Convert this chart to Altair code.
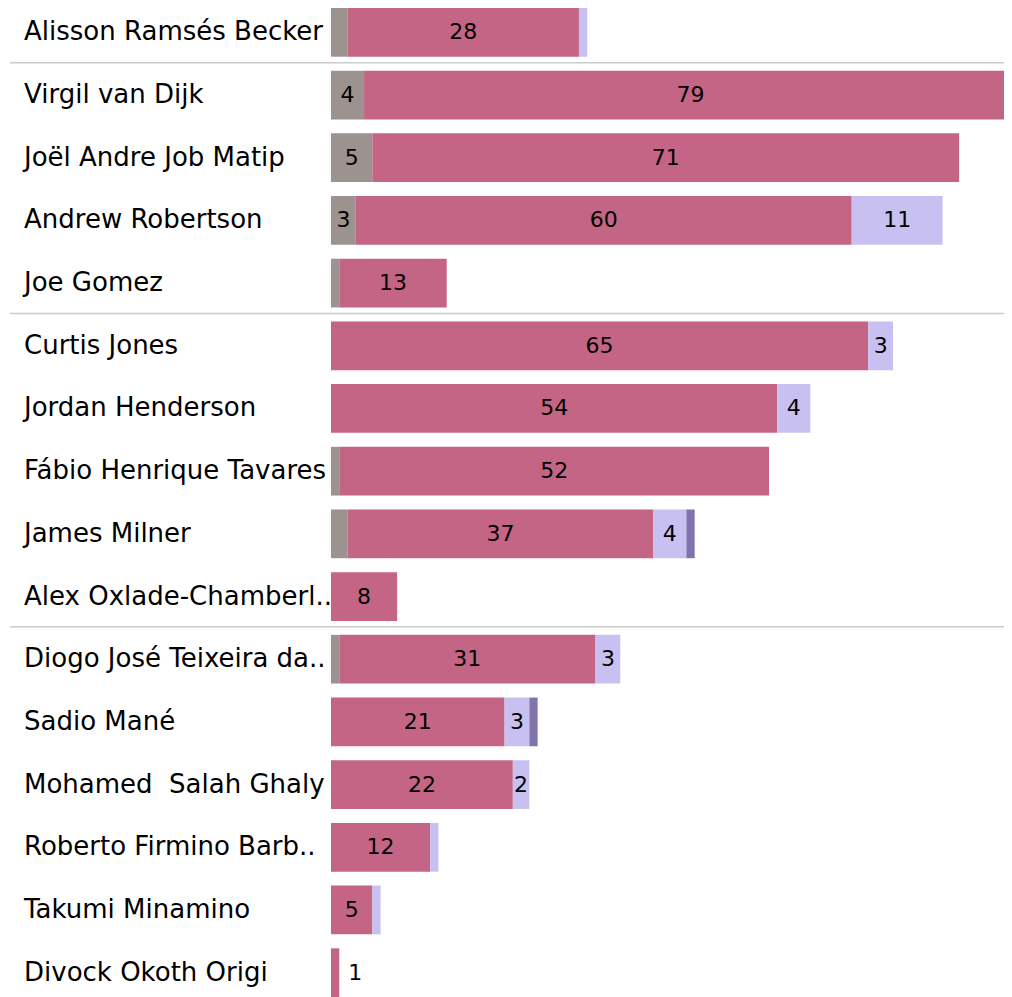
import altair as alt
import pandas as pd

players = [
    "Alisson Ramsés Becker", "Virgil van Dijk", "Joël Andre Job Matip",
    "Andrew Robertson", "Joe Gomez", "Curtis Jones", "Jordan Henderson",
    "Fábio Henrique Tavares", "James Milner", "Alex Oxlade-Chamberlain",
    "Diogo José Teixeira da Silva", "Sadio Mané", "Mohamed\u00a0 Salah Ghaly",
    "Roberto Firmino Barbosa de Oliveira", "Takumi Minamino", "Divock Okoth Origi",
]
positions = ["GK", "DEF", "DEF", "DEF", "DEF", "MID", "MID", "MID", "MID", "MID",
             "FWD", "FWD", "FWD", "FWD", "FWD", "FWD"]
# label width class: 1 = slightly tighter truncation
tight = [0, 0, 0, 0, 0, 0, 0, 0, 0, 0, 0, 0, 0, 1, 0, 0]

grey = [2, 4, 5, 3, 1, 0, 0, 1, 2, 0, 1, 0, 0, 0, 0, 0]
pink = [28, 79, 71, 60, 13, 65, 54, 52, 37, 8, 31, 21, 22, 12, 5, 1]
lav = [1, 0, 0, 11, 0, 3, 4, 0, 4, 0, 3, 3, 2, 1, 1, 0]
dark = [0, 0, 0, 0, 0, 0, 0, 0, 1, 0, 0, 1, 0, 0, 0, 0]

series_names = ["grey", "pink", "lav", "dark"]
series_values = [grey, pink, lav, dark]
series_colors = ["#9c928f", "#c46585", "#c8c0f0", "#8074ab"]

unlabelled = [("Alisson Ramsés Becker", "grey"), ("James Milner", "grey")]

rows = []
for i, p in enumerate(players):
    for k, (s, vals) in enumerate(zip(series_names, series_values)):
        v = vals[i]
        if v > 0:
            inside = 1 if (v >= 2 and (p, s) not in unlabelled) else 0
            outside = 1 if (s == "pink" and v < 2) else 0
            rows.append(dict(player=p, series=s, order=k, value=v,
                             inside=inside, outside=outside))
df = pd.DataFrame(rows)

first_flags = [1 if i == 0 or positions[i] != positions[i - 1] else 0
               for i in range(len(players))]
names_df = pd.DataFrame({"player": players, "position": positions,
                         "first": first_flags, "tight": tight})

W = 686
H = 1003
FONT = "DejaVu Sans"

yscale = alt.Scale(paddingInner=0.223, paddingOuter=0.1115)
Y = alt.Y("player:N", sort=players, axis=None, scale=yscale)

base = (
    alt.Chart(df)
    .transform_stack(stack="value", groupby=["player"], as_=["x0", "x1"],
                     sort=[alt.SortField("order", order="ascending")])
    .transform_calculate(mid="(datum.x0 + datum.x1) / 2")
)
xscale = alt.Scale(domain=[0, 83], nice=False, zero=True)

bars = base.mark_bar(cornerRadius=0).encode(
    x=alt.X("x0:Q", scale=xscale, axis=None),
    x2="x1:Q",
    y=Y,
    color=alt.Color("series:N", scale=alt.Scale(domain=series_names, range=series_colors), legend=None),
)

inside_text = base.transform_filter("datum.inside == 1").mark_text(
    font=FONT, fontSize=22, color="black", align="center", baseline="middle"
).encode(
    x=alt.X("mid:Q", scale=xscale, axis=None),
    y=Y,
    text=alt.Text("value:Q"),
)

outside_text = base.transform_filter("datum.outside == 1").mark_text(
    font=FONT, fontSize=22, color="black", align="left", baseline="middle", dx=9
).encode(
    x=alt.X("x1:Q", scale=xscale, axis=None),
    y=Y,
    text=alt.Text("value:Q"),
)

names = alt.Chart(names_df).transform_filter("datum.tight == 0").mark_text(
    font=FONT, fontSize=26, color="black", align="left", baseline="middle",
    limit=308.5, ellipsis=".."
).encode(
    x=alt.value(-307),
    y=Y,
    text="player:N",
)

names_tight = alt.Chart(names_df).transform_filter("datum.tight == 1").mark_text(
    font=FONT, fontSize=26, color="black", align="left", baseline="middle",
    limit=304, ellipsis=".."
).encode(
    x=alt.value(-307),
    y=Y,
    text="player:N",
)

rules = alt.Chart(names_df).transform_filter("datum.first == 1").mark_rule(
    color="#cccccc", strokeWidth=1.5, yOffset=-8
).encode(
    x=alt.value(-321),
    x2=alt.value(W + 20),
    y=alt.Y("player:N", sort=players, axis=None, scale=yscale, bandPosition=0),
)

chart = (
    alt.layer(rules, bars, inside_text, outside_text, names, names_tight)
    .properties(
        width=W, height=H,
        autosize=alt.AutoSizeParams(type="none"),
        padding={"left": 323, "top": -7, "right": -13, "bottom": 0},
    )
    .configure_view(stroke=None)
)

chart.save("out.html", embed_options={"renderer": "svg", "actions": False})
